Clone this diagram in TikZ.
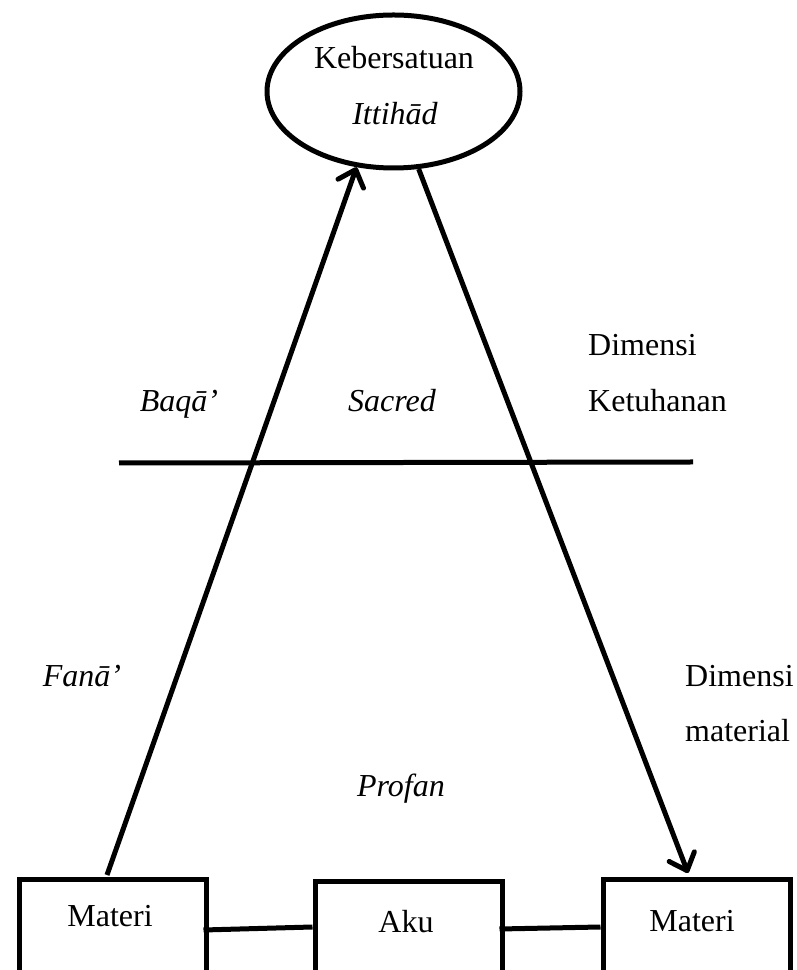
\documentclass[tikz,border=0pt]{standalone}
\usepackage{fontspec}
\setmainfont{Liberation Serif}
\usetikzlibrary{shapes.geometric,arrows.meta}
\begin{document}
\begin{tikzpicture}[x=1pt,y=1pt,
  thick line/.style={line width=5pt},
  lbl/.style={inner sep=0pt,anchor=base,font=\fontsize{32}{38}\selectfont},
  lblw/.style={lbl,anchor=base west},
  boxnode/.style={draw,line width=5pt,minimum width=187pt,minimum height=110pt,inner sep=0pt,anchor=north west},
  arr/.style={thick line,-{Straight Barb[length=15pt,width=27pt,line cap=round,line join=round]}}
]
\useasboundingbox (0,0) rectangle (796,970);
% ellipse
\node[ellipse,draw,line width=5pt,minimum width=253pt,minimum height=153pt,inner sep=0pt] (el) at (393.5,878.5) {};
\node[lbl] (t1) at (394,901) {Kebersatuan};
\node[lbl] (t2) at (395,845) {\itshape Ittihād};
% boxes
\node[boxnode] (lbox) at (16.5,92.5) {};
\node[boxnode] (mbox) at (312.5,90.5) {};
\node[boxnode] (rbox) at (600.5,92.5) {};
\node[lbl] (m1) at (110,43) {Materi};
\node[lbl] (m2) at (406,37) {Aku};
\node[lbl] (m3) at (692,38) {Materi};
% box connectors
\coordinate (c1) at (203.5,40);
\coordinate (c2) at (312.5,43);
\coordinate (c3) at (499.5,41);
\coordinate (c4) at (600.5,43);
\draw[thick line] (c1) -- (c2);
\draw[thick line] (c3) -- (c4);
% horizontal line
\coordinate (h1) at (119,507);
\coordinate (h2) at (693,508);
\draw[thick line] (h1) -- (h2);
% arrows
\coordinate (lstart) at (107,95);
\coordinate (rtip) at (688,97);
\draw[arr] (lstart) -- (el.244);
\draw[arr] (el.288) -- (rtip);
% labels
\node[lbl] (baqa) at (179,558) {\itshape Baqā’};
\node[lbl] (sacred) at (392,558) {\itshape Sacred};
\node[lblw] (dim1) at (588,614) {Dimensi};
\node[lblw] (ket) at (588,558) {Ketuhanan};
\node[lbl] (fana) at (82,283) {\itshape Fanā’};
\node[lblw] (dim2) at (685,283) {Dimensi};
\node[lblw] (mat) at (685,228) {material};
\node[lbl] (profan) at (401,173) {\itshape Profan};
\end{tikzpicture}
\end{document}
